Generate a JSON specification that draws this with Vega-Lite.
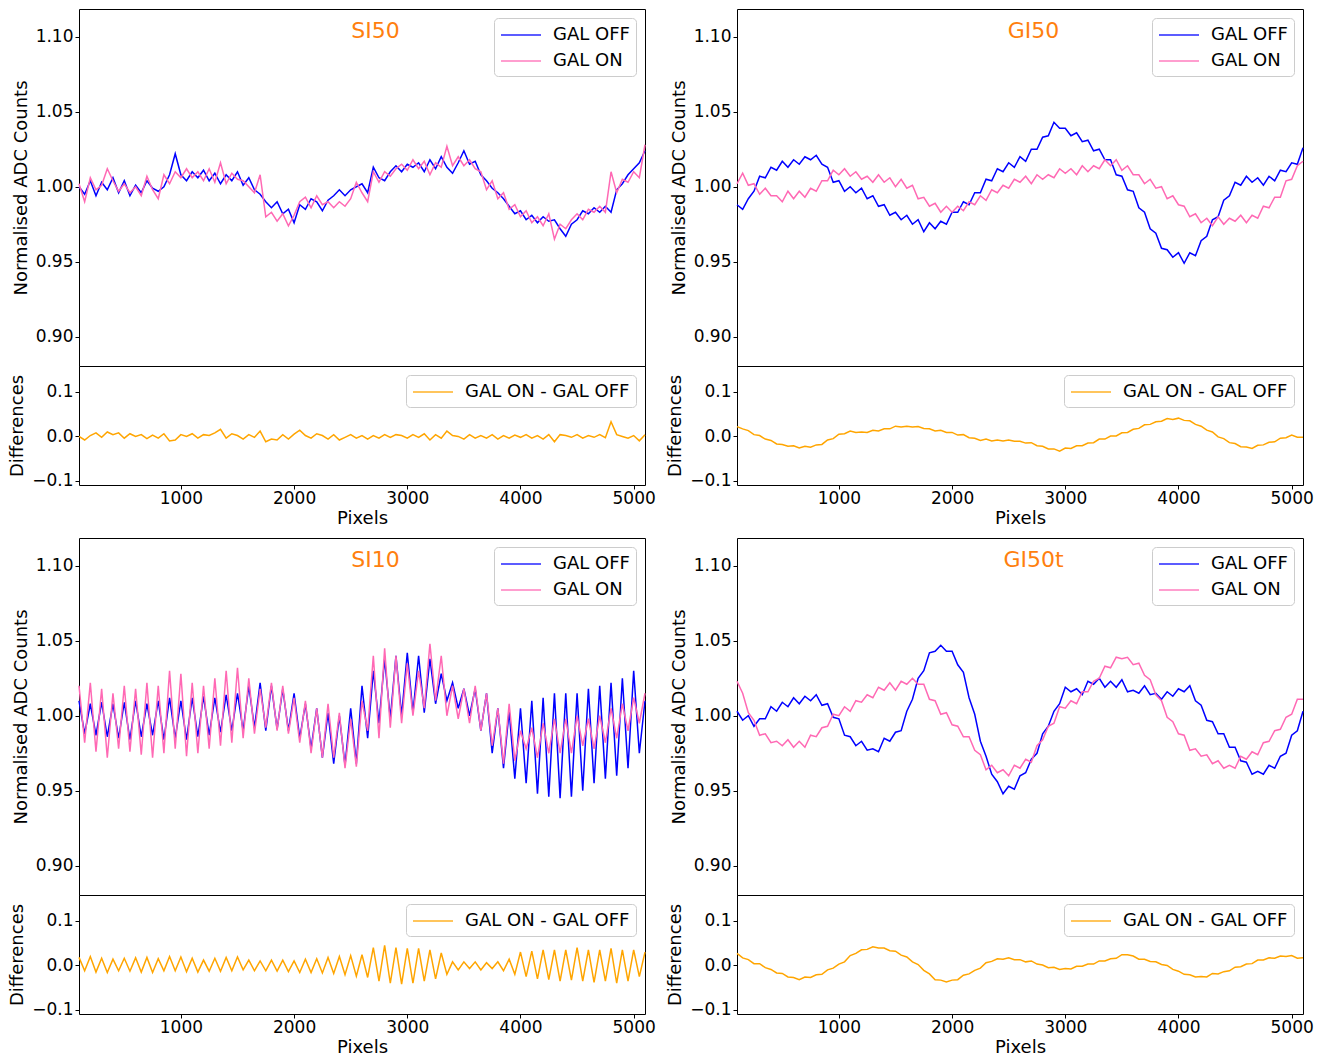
{
  "$schema": "https://vega.github.io/schema/vega-lite/v6.json",
  "background": "white",
  "padding": {"left": 8, "top": 8, "right": 5, "bottom": 5},
  "config": {
    "font": "DejaVu Sans",
    "view": {"stroke": "black", "strokeWidth": 1},
    "axis": {"labelFontSize": 17, "titleFontSize": 18, "titleFontWeight": "normal", "labelColor": "black", "titleColor": "black", "tickColor": "black", "domain": false, "grid": false, "tickSize": 4, "tickWidth": 1, "labelPadding": 2, "titlePadding": 5, "labelFont": "DejaVu Sans", "titleFont": "DejaVu Sans"},
    "axisX": {"labelPadding": 1, "titlePadding": 3},
    "legend": {"orient": "top-right", "offset": 9, "symbolType": "M-1,0H3", "symbolSize": 400, "symbolStrokeWidth": 1.5, "symbolOpacity": 0.85, "labelFontSize": 18, "labelOffset": 31, "labelLimit": 300, "padding": 6, "rowPadding": 6, "strokeColor": "#cccccc", "fillColor": "rgba(255,255,255,0.85)", "cornerRadius": 4, "labelColor": "black", "labelFont": "DejaVu Sans"}
  },
  "datasets": {
    "si50": [
      {"x":100,"off":1.000,"on":1.002,"d":0.000},{"x":150,"off":0.995,"on":0.990,"d":-0.008},{"x":200,"off":1.004,"on":1.006,"d":0.002},{"x":250,"off":0.994,"on":0.998,"d":0.008},{"x":300,"off":1.003,"on":1.001,"d":-0.002},{"x":350,"off":0.998,"on":1.012,"d":0.010},{"x":400,"off":1.006,"on":1.004,"d":0.004},{"x":450,"off":0.996,"on":0.997,"d":0.008},{"x":500,"off":1.004,"on":1.002,"d":-0.004},{"x":550,"off":0.994,"on":0.996,"d":0.006},
      {"x":600,"off":1.001,"on":1.000,"d":0.000},{"x":650,"off":0.996,"on":0.994,"d":0.004},{"x":700,"off":1.004,"on":1.007,"d":-0.005},{"x":750,"off":0.999,"on":0.998,"d":0.003},{"x":800,"off":0.997,"on":0.992,"d":-0.004},{"x":850,"off":1.000,"on":1.008,"d":0.006},{"x":900,"off":1.008,"on":1.002,"d":-0.010},{"x":950,"off":1.022,"on":1.010,"d":-0.008},{"x":1000,"off":1.008,"on":1.006,"d":0.004},{"x":1050,"off":1.004,"on":1.012,"d":0.000},
      {"x":1100,"off":1.010,"on":1.006,"d":0.006},{"x":1150,"off":1.006,"on":1.010,"d":-0.004},{"x":1200,"off":1.011,"on":1.004,"d":0.004},{"x":1250,"off":1.004,"on":1.012,"d":0.002},{"x":1300,"off":1.009,"on":1.003,"d":0.008},{"x":1350,"off":1.002,"on":1.016,"d":0.016},{"x":1400,"off":1.008,"on":1.002,"d":-0.004},{"x":1450,"off":1.004,"on":1.009,"d":0.006},{"x":1500,"off":1.010,"on":1.005,"d":0.002},{"x":1550,"off":1.001,"on":1.004,"d":-0.006},
      {"x":1600,"off":1.006,"on":1.000,"d":0.004},{"x":1650,"off":0.998,"on":0.996,"d":-0.002},{"x":1700,"off":0.995,"on":1.008,"d":0.012},{"x":1750,"off":0.990,"on":0.980,"d":-0.012},{"x":1800,"off":0.986,"on":0.983,"d":-0.006},{"x":1850,"off":0.990,"on":0.977,"d":-0.008},{"x":1900,"off":0.982,"on":0.982,"d":0.004},{"x":1950,"off":0.985,"on":0.974,"d":-0.006},{"x":2000,"off":0.976,"on":0.981,"d":0.005},{"x":2050,"off":0.988,"on":0.990,"d":0.014},
      {"x":2100,"off":0.985,"on":0.993,"d":0.002},{"x":2150,"off":0.992,"on":0.986,"d":-0.004},{"x":2200,"off":0.990,"on":0.994,"d":0.006},{"x":2250,"off":0.984,"on":0.988,"d":0.002},{"x":2300,"off":0.991,"on":0.990,"d":-0.006},{"x":2350,"off":0.994,"on":0.986,"d":0.004},{"x":2400,"off":0.998,"on":0.990,"d":-0.008},{"x":2450,"off":0.994,"on":0.987,"d":-0.002},{"x":2500,"off":0.998,"on":0.992,"d":0.004},{"x":2550,"off":1.000,"on":1.003,"d":-0.004},
      {"x":2600,"off":1.002,"on":0.996,"d":0.002},{"x":2650,"off":0.996,"on":0.990,"d":-0.006},{"x":2700,"off":1.013,"on":1.010,"d":0.002},{"x":2750,"off":1.006,"on":1.003,"d":-0.004},{"x":2800,"off":1.004,"on":1.010,"d":0.004},{"x":2850,"off":1.010,"on":1.007,"d":-0.002},{"x":2900,"off":1.014,"on":1.012,"d":0.004},{"x":2950,"off":1.010,"on":1.015,"d":0.002},{"x":3000,"off":1.015,"on":1.011,"d":-0.004},{"x":3050,"off":1.013,"on":1.018,"d":0.004},
      {"x":3100,"off":1.016,"on":1.012,"d":-0.002},{"x":3150,"off":1.010,"on":1.017,"d":0.006},{"x":3200,"off":1.018,"on":1.008,"d":-0.008},{"x":3250,"off":1.012,"on":1.016,"d":0.004},{"x":3300,"off":1.020,"on":1.013,"d":-0.004},{"x":3350,"off":1.013,"on":1.027,"d":0.012},{"x":3400,"off":1.009,"on":1.014,"d":0.002},{"x":3450,"off":1.016,"on":1.020,"d":0.000},{"x":3500,"off":1.024,"on":1.014,"d":-0.006},{"x":3550,"off":1.015,"on":1.018,"d":0.004},
      {"x":3600,"off":1.017,"on":1.012,"d":-0.004},{"x":3650,"off":1.008,"on":1.010,"d":0.002},{"x":3700,"off":1.004,"on":0.998,"d":-0.004},{"x":3750,"off":0.999,"on":1.004,"d":0.004},{"x":3800,"off":0.996,"on":0.992,"d":-0.006},{"x":3850,"off":0.992,"on":0.996,"d":0.002},{"x":3900,"off":0.987,"on":0.985,"d":-0.004},{"x":3950,"off":0.982,"on":0.988,"d":0.003},{"x":4000,"off":0.984,"on":0.980,"d":-0.002},{"x":4050,"off":0.978,"on":0.984,"d":0.004},
      {"x":4100,"off":0.981,"on":0.976,"d":-0.004},{"x":4150,"off":0.976,"on":0.980,"d":0.002},{"x":4200,"off":0.980,"on":0.974,"d":-0.006},{"x":4250,"off":0.977,"on":0.982,"d":0.004},{"x":4300,"off":0.978,"on":0.965,"d":-0.012},{"x":4350,"off":0.972,"on":0.975,"d":0.004},{"x":4400,"off":0.967,"on":0.972,"d":0.002},{"x":4450,"off":0.975,"on":0.978,"d":-0.002},{"x":4500,"off":0.978,"on":0.982,"d":0.004},{"x":4550,"off":0.984,"on":0.978,"d":-0.004},
      {"x":4600,"off":0.982,"on":0.985,"d":0.002},{"x":4650,"off":0.986,"on":0.983,"d":-0.002},{"x":4700,"off":0.983,"on":0.987,"d":0.004},{"x":4750,"off":0.987,"on":0.983,"d":-0.003},{"x":4800,"off":0.983,"on":1.010,"d":0.033},{"x":4850,"off":0.998,"on":0.996,"d":0.004},{"x":4900,"off":1.002,"on":1.005,"d":0.000},{"x":4950,"off":1.008,"on":1.003,"d":-0.004},{"x":5000,"off":1.012,"on":1.010,"d":0.002},{"x":5050,"off":1.016,"on":1.006,"d":-0.010},
      {"x":5100,"off":1.024,"on":1.028,"d":0.004}
    ],
    "gi50": [
      {"x":100,"off":0.988,"on":1.002,"d":0.022},{"x":150,"off":0.985,"on":1.009,"d":0.017},{"x":200,"off":0.992,"on":1.001,"d":0.013},{"x":250,"off":0.997,"on":1.002,"d":0.004},{"x":300,"off":1.007,"on":0.995,"d":0.002},{"x":350,"off":1.006,"on":0.999,"d":-0.006},{"x":400,"off":1.013,"on":0.994,"d":-0.009},{"x":450,"off":1.011,"on":0.994,"d":-0.017},{"x":500,"off":1.017,"on":0.990,"d":-0.018},{"x":550,"off":1.013,"on":0.997,"d":-0.022},
      {"x":600,"off":1.018,"on":0.992,"d":-0.021},{"x":650,"off":1.015,"on":0.997,"d":-0.026},{"x":700,"off":1.020,"on":0.993,"d":-0.022},{"x":750,"off":1.018,"on":0.999,"d":-0.024},{"x":800,"off":1.021,"on":0.997,"d":-0.019},{"x":850,"off":1.015,"on":1.004,"d":-0.018},{"x":900,"off":1.013,"on":1.004,"d":-0.008},{"x":950,"off":1.003,"on":1.011,"d":-0.005},{"x":1000,"off":1.004,"on":1.008,"d":0.005},{"x":1050,"off":0.997,"on":1.012,"d":0.006},
      {"x":1100,"off":1.000,"on":1.007,"d":0.012},{"x":1150,"off":0.996,"on":1.010,"d":0.009},{"x":1200,"off":0.999,"on":1.005,"d":0.010},{"x":1250,"off":0.992,"on":1.007,"d":0.009},{"x":1300,"off":0.994,"on":1.003,"d":0.014},{"x":1350,"off":0.987,"on":1.008,"d":0.012},{"x":1400,"off":0.988,"on":1.003,"d":0.017},{"x":1450,"off":0.981,"on":1.006,"d":0.017},{"x":1500,"off":0.983,"on":1.000,"d":0.023},{"x":1550,"off":0.978,"on":1.005,"d":0.021},
      {"x":1600,"off":0.981,"on":0.999,"d":0.023},{"x":1650,"off":0.975,"on":1.001,"d":0.021},{"x":1700,"off":0.978,"on":0.992,"d":0.022},{"x":1750,"off":0.970,"on":0.993,"d":0.018},{"x":1800,"off":0.976,"on":0.987,"d":0.017},{"x":1850,"off":0.972,"on":0.989,"d":0.012},{"x":1900,"off":0.977,"on":0.983,"d":0.014},{"x":1950,"off":0.975,"on":0.987,"d":0.009},{"x":2000,"off":0.983,"on":0.983,"d":0.009},{"x":2050,"off":0.983,"on":0.987,"d":0.003},
      {"x":2100,"off":0.990,"on":0.984,"d":0.004},{"x":2150,"off":0.988,"on":0.990,"d":-0.003},{"x":2200,"off":0.996,"on":0.988,"d":-0.004},{"x":2250,"off":0.996,"on":0.994,"d":-0.009},{"x":2300,"off":1.005,"on":0.991,"d":-0.006},{"x":2350,"off":1.004,"on":0.998,"d":-0.010},{"x":2400,"off":1.012,"on":0.996,"d":-0.008},{"x":2450,"off":1.010,"on":1.001,"d":-0.010},{"x":2500,"off":1.016,"on":0.999,"d":-0.008},{"x":2550,"off":1.013,"on":1.005,"d":-0.011},
      {"x":2600,"off":1.020,"on":1.003,"d":-0.011},{"x":2650,"off":1.017,"on":1.007,"d":-0.015},{"x":2700,"off":1.025,"on":1.002,"d":-0.014},{"x":2750,"off":1.025,"on":1.008,"d":-0.021},{"x":2800,"off":1.033,"on":1.005,"d":-0.022},{"x":2850,"off":1.034,"on":1.008,"d":-0.028},{"x":2900,"off":1.043,"on":1.006,"d":-0.028},{"x":2950,"off":1.039,"on":1.012,"d":-0.033},{"x":3000,"off":1.039,"on":1.009,"d":-0.026},{"x":3050,"off":1.034,"on":1.012,"d":-0.027},
      {"x":3100,"off":1.036,"on":1.008,"d":-0.021},{"x":3150,"off":1.030,"on":1.014,"d":-0.021},{"x":3200,"off":1.031,"on":1.010,"d":-0.015},{"x":3250,"off":1.024,"on":1.014,"d":-0.014},{"x":3300,"off":1.025,"on":1.012,"d":-0.006},{"x":3350,"off":1.018,"on":1.018,"d":-0.006},{"x":3400,"off":1.018,"on":1.014,"d":0.001},{"x":3450,"off":1.008,"on":1.018,"d":0.001},{"x":3500,"off":1.007,"on":1.011,"d":0.008},{"x":3550,"off":0.998,"on":1.014,"d":0.009},
      {"x":3600,"off":0.997,"on":1.008,"d":0.016},{"x":3650,"off":0.986,"on":1.008,"d":0.018},{"x":3700,"off":0.983,"on":1.002,"d":0.026},{"x":3750,"off":0.972,"on":1.005,"d":0.027},{"x":3800,"off":0.969,"on":0.999,"d":0.033},{"x":3850,"off":0.959,"on":1.000,"d":0.034},{"x":3900,"off":0.958,"on":0.992,"d":0.040},{"x":3950,"off":0.953,"on":0.994,"d":0.038},{"x":4000,"off":0.956,"on":0.988,"d":0.041},{"x":4050,"off":0.949,"on":0.987,"d":0.036},
      {"x":4100,"off":0.956,"on":0.980,"d":0.035},{"x":4150,"off":0.954,"on":0.982,"d":0.027},{"x":4200,"off":0.964,"on":0.976,"d":0.023},{"x":4250,"off":0.967,"on":0.979,"d":0.014},{"x":4300,"off":0.978,"on":0.974,"d":0.010},{"x":4350,"off":0.980,"on":0.980,"d":-0.001},{"x":4400,"off":0.991,"on":0.975,"d":-0.005},{"x":4450,"off":0.994,"on":0.979,"d":-0.014},{"x":4500,"off":1.003,"on":0.977,"d":-0.016},{"x":4550,"off":1.001,"on":0.981,"d":-0.023},
      {"x":4600,"off":1.007,"on":0.976,"d":-0.024},{"x":4650,"off":1.003,"on":0.981,"d":-0.027},{"x":4700,"off":1.006,"on":0.979,"d":-0.020},{"x":4750,"off":1.001,"on":0.987,"d":-0.019},{"x":4800,"off":1.007,"on":0.986,"d":-0.013},{"x":4850,"off":1.004,"on":0.993,"d":-0.012},{"x":4900,"off":1.011,"on":0.993,"d":-0.004},{"x":4950,"off":1.010,"on":1.004,"d":-0.003},{"x":5000,"off":1.016,"on":1.005,"d":0.003},{"x":5050,"off":1.015,"on":1.014,"d":-0.002},
      {"x":5100,"off":1.026,"on":1.017,"d":-0.002}
    ],
    "si10": [
      {"x":100,"off":1.010,"on":1.020,"d":0.018},{"x":150,"off":0.988,"on":0.982,"d":-0.012},{"x":200,"off":1.008,"on":1.022,"d":0.020},{"x":250,"off":0.987,"on":0.976,"d":-0.015},{"x":300,"off":1.009,"on":1.018,"d":0.016},{"x":350,"off":0.986,"on":0.972,"d":-0.016},{"x":400,"off":1.008,"on":1.015,"d":0.014},{"x":450,"off":0.985,"on":0.978,"d":-0.012},{"x":500,"off":1.009,"on":1.020,"d":0.016},{"x":550,"off":0.984,"on":0.976,"d":-0.013},
      {"x":600,"off":1.010,"on":1.018,"d":0.017},{"x":650,"off":0.986,"on":0.974,"d":-0.015},{"x":700,"off":1.008,"on":1.022,"d":0.018},{"x":750,"off":0.987,"on":0.972,"d":-0.016},{"x":800,"off":1.010,"on":1.020,"d":0.015},{"x":850,"off":0.984,"on":0.975,"d":-0.012},{"x":900,"off":1.012,"on":1.030,"d":0.020},{"x":950,"off":0.985,"on":0.978,"d":-0.012},{"x":1000,"off":1.010,"on":1.028,"d":0.019},{"x":1050,"off":0.984,"on":0.973,"d":-0.014},
      {"x":1100,"off":1.012,"on":1.022,"d":0.016},{"x":1150,"off":0.986,"on":0.975,"d":-0.015},{"x":1200,"off":1.013,"on":1.020,"d":0.012},{"x":1250,"off":0.987,"on":0.978,"d":-0.013},{"x":1300,"off":1.012,"on":1.025,"d":0.016},{"x":1350,"off":0.989,"on":0.980,"d":-0.013},{"x":1400,"off":1.014,"on":1.030,"d":0.018},{"x":1450,"off":0.990,"on":0.982,"d":-0.012},{"x":1500,"off":1.015,"on":1.032,"d":0.019},{"x":1550,"off":0.990,"on":0.985,"d":-0.010},
      {"x":1600,"off":1.020,"on":1.025,"d":0.012},{"x":1650,"off":0.992,"on":0.988,"d":-0.012},{"x":1700,"off":1.022,"on":1.018,"d":0.010},{"x":1750,"off":0.990,"on":0.992,"d":-0.012},{"x":1800,"off":1.020,"on":1.022,"d":0.012},{"x":1850,"off":0.991,"on":0.990,"d":-0.013},{"x":1900,"off":1.018,"on":1.020,"d":0.012},{"x":1950,"off":0.990,"on":0.988,"d":-0.014},{"x":2000,"off":1.015,"on":1.012,"d":0.010},{"x":2050,"off":0.985,"on":0.982,"d":-0.016},
      {"x":2100,"off":1.008,"on":1.010,"d":0.014},{"x":2150,"off":0.978,"on":0.975,"d":-0.016},{"x":2200,"off":1.005,"on":1.005,"d":0.015},{"x":2250,"off":0.972,"on":0.972,"d":-0.017},{"x":2300,"off":1.002,"on":1.008,"d":0.018},{"x":2350,"off":0.968,"on":0.972,"d":-0.018},{"x":2400,"off":1.000,"on":1.002,"d":0.020},{"x":2450,"off":0.967,"on":0.965,"d":-0.021},{"x":2500,"off":1.005,"on":0.998,"d":0.022},{"x":2550,"off":0.968,"on":0.966,"d":-0.024},
      {"x":2600,"off":1.020,"on":1.010,"d":0.024},{"x":2650,"off":0.985,"on":0.990,"d":-0.027},{"x":2700,"off":1.030,"on":1.040,"d":0.040},{"x":2750,"off":0.995,"on":0.985,"d":-0.035},{"x":2800,"off":1.038,"on":1.045,"d":0.045},{"x":2850,"off":0.998,"on":0.992,"d":-0.040},{"x":2900,"off":1.040,"on":1.040,"d":0.040},{"x":2950,"off":1.000,"on":0.995,"d":-0.042},{"x":3000,"off":1.042,"on":1.035,"d":0.038},{"x":3050,"off":1.002,"on":1.000,"d":-0.040},
      {"x":3100,"off":1.040,"on":1.030,"d":0.038},{"x":3150,"off":1.002,"on":1.005,"d":-0.035},{"x":3200,"off":1.038,"on":1.048,"d":0.035},{"x":3250,"off":1.008,"on":1.010,"d":-0.030},{"x":3300,"off":1.028,"on":1.040,"d":0.028},{"x":3350,"off":1.010,"on":1.000,"d":-0.020},{"x":3400,"off":1.022,"on":1.020,"d":0.008},{"x":3450,"off":1.005,"on":0.998,"d":-0.010},{"x":3500,"off":1.018,"on":1.018,"d":0.008},{"x":3550,"off":1.000,"on":0.995,"d":-0.007},
      {"x":3600,"off":1.018,"on":1.020,"d":0.008},{"x":3650,"off":0.990,"on":0.990,"d":-0.010},{"x":3700,"off":1.015,"on":1.015,"d":0.006},{"x":3750,"off":0.975,"on":0.980,"d":-0.007},{"x":3800,"off":1.005,"on":1.005,"d":0.008},{"x":3850,"off":0.965,"on":0.968,"d":-0.012},{"x":3900,"off":1.003,"on":1.008,"d":0.014},{"x":3950,"off":0.958,"on":0.970,"d":-0.020},{"x":4000,"off":1.005,"on":0.990,"d":0.030},{"x":4050,"off":0.955,"on":0.978,"d":-0.025},
      {"x":4100,"off":1.010,"on":0.992,"d":0.032},{"x":4150,"off":0.948,"on":0.972,"d":-0.030},{"x":4200,"off":1.012,"on":0.995,"d":0.035},{"x":4250,"off":0.946,"on":0.975,"d":-0.032},{"x":4300,"off":1.015,"on":0.998,"d":0.035},{"x":4350,"off":0.945,"on":0.975,"d":-0.035},{"x":4400,"off":1.015,"on":0.998,"d":0.035},{"x":4450,"off":0.946,"on":0.975,"d":-0.033},{"x":4500,"off":1.015,"on":1.000,"d":0.040},{"x":4550,"off":0.950,"on":0.980,"d":-0.035},
      {"x":4600,"off":1.018,"on":0.998,"d":0.035},{"x":4650,"off":0.955,"on":0.978,"d":-0.038},{"x":4700,"off":1.020,"on":1.000,"d":0.035},{"x":4750,"off":0.958,"on":0.982,"d":-0.035},{"x":4800,"off":1.022,"on":1.005,"d":0.038},{"x":4850,"off":0.960,"on":0.985,"d":-0.040},{"x":4900,"off":1.025,"on":1.008,"d":0.035},{"x":4950,"off":0.965,"on":0.990,"d":-0.035},{"x":5000,"off":1.030,"on":1.012,"d":0.035},{"x":5050,"off":0.975,"on":0.995,"d":-0.025},
      {"x":5100,"off":1.010,"on":1.015,"d":0.030}
    ],
    "gi50t": [
      {"x":100,"off":1.003,"on":1.023,"d":0.027},{"x":150,"off":0.997,"on":1.015,"d":0.017},{"x":200,"off":1.000,"on":1.002,"d":0.013},{"x":250,"off":0.993,"on":0.997,"d":0.004},{"x":300,"off":0.998,"on":0.987,"d":0.004},{"x":350,"off":0.998,"on":0.988,"d":-0.005},{"x":400,"off":1.006,"on":0.982,"d":-0.009},{"x":450,"off":1.003,"on":0.983,"d":-0.017},{"x":500,"off":1.009,"on":0.980,"d":-0.018},{"x":550,"off":1.006,"on":0.984,"d":-0.026},
      {"x":600,"off":1.012,"on":0.979,"d":-0.027},{"x":650,"off":1.008,"on":0.983,"d":-0.032},{"x":700,"off":1.013,"on":0.979,"d":-0.026},{"x":750,"off":1.010,"on":0.987,"d":-0.027},{"x":800,"off":1.014,"on":0.986,"d":-0.021},{"x":850,"off":1.007,"on":0.992,"d":-0.020},{"x":900,"off":1.008,"on":0.993,"d":-0.010},{"x":950,"off":0.999,"on":1.001,"d":-0.006},{"x":1000,"off":0.998,"on":1.000,"d":0.003},{"x":1050,"off":0.987,"on":1.006,"d":0.008},
      {"x":1100,"off":0.986,"on":1.003,"d":0.022},{"x":1150,"off":0.980,"on":1.010,"d":0.027},{"x":1200,"off":0.983,"on":1.009,"d":0.035},{"x":1250,"off":0.977,"on":1.014,"d":0.036},{"x":1300,"off":0.978,"on":1.012,"d":0.042},{"x":1350,"off":0.976,"on":1.019,"d":0.039},{"x":1400,"off":0.985,"on":1.017,"d":0.039},{"x":1450,"off":0.983,"on":1.022,"d":0.033},{"x":1500,"off":0.989,"on":1.017,"d":0.032},{"x":1550,"off":0.990,"on":1.023,"d":0.023},
      {"x":1600,"off":1.003,"on":1.021,"d":0.019},{"x":1650,"off":1.011,"on":1.025,"d":0.008},{"x":1700,"off":1.025,"on":1.021,"d":0.002},{"x":1750,"off":1.030,"on":1.021,"d":-0.011},{"x":1800,"off":1.042,"on":1.011,"d":-0.019},{"x":1850,"off":1.043,"on":1.010,"d":-0.032},{"x":1900,"off":1.047,"on":1.001,"d":-0.033},{"x":1950,"off":1.043,"on":1.002,"d":-0.037},{"x":2000,"off":1.043,"on":0.994,"d":-0.033},{"x":2050,"off":1.034,"on":0.993,"d":-0.032},
      {"x":2100,"off":1.029,"on":0.986,"d":-0.022},{"x":2150,"off":1.012,"on":0.986,"d":-0.019},{"x":2200,"off":1.001,"on":0.977,"d":-0.011},{"x":2250,"off":0.983,"on":0.974,"d":-0.006},{"x":2300,"off":0.973,"on":0.964,"d":0.006},{"x":2350,"off":0.961,"on":0.967,"d":0.009},{"x":2400,"off":0.956,"on":0.962,"d":0.015},{"x":2450,"off":0.948,"on":0.964,"d":0.014},{"x":2500,"off":0.953,"on":0.960,"d":0.017},{"x":2550,"off":0.951,"on":0.967,"d":0.013},
      {"x":2600,"off":0.960,"on":0.965,"d":0.013},{"x":2650,"off":0.962,"on":0.971,"d":0.008},{"x":2700,"off":0.971,"on":0.969,"d":0.010},{"x":2750,"off":0.975,"on":0.980,"d":0.003},{"x":2800,"off":0.988,"on":0.984,"d":0.001},{"x":2850,"off":0.993,"on":0.993,"d":-0.005},{"x":2900,"off":1.003,"on":0.995,"d":-0.004},{"x":2950,"off":1.008,"on":1.006,"d":-0.009},{"x":3000,"off":1.019,"on":1.005,"d":-0.007},{"x":3050,"off":1.016,"on":1.010,"d":-0.008},
      {"x":3100,"off":1.018,"on":1.008,"d":-0.002},{"x":3150,"off":1.014,"on":1.016,"d":-0.002},{"x":3200,"off":1.023,"on":1.016,"d":0.003},{"x":3250,"off":1.021,"on":1.023,"d":0.003},{"x":3300,"off":1.025,"on":1.025,"d":0.010},{"x":3350,"off":1.019,"on":1.033,"d":0.010},{"x":3400,"off":1.023,"on":1.032,"d":0.015},{"x":3450,"off":1.019,"on":1.039,"d":0.016},{"x":3500,"off":1.024,"on":1.038,"d":0.024},{"x":3550,"off":1.016,"on":1.039,"d":0.024},
      {"x":3600,"off":1.017,"on":1.034,"d":0.021},{"x":3650,"off":1.015,"on":1.035,"d":0.014},{"x":3700,"off":1.020,"on":1.027,"d":0.014},{"x":3750,"off":1.014,"on":1.024,"d":0.009},{"x":3800,"off":1.015,"on":1.014,"d":0.008},{"x":3850,"off":1.011,"on":1.010,"d":0.002},{"x":3900,"off":1.016,"on":0.999,"d":0.000},{"x":3950,"off":1.013,"on":0.996,"d":-0.009},{"x":4000,"off":1.018,"on":0.988,"d":-0.013},{"x":4050,"off":1.016,"on":0.987,"d":-0.020},
      {"x":4100,"off":1.020,"on":0.977,"d":-0.021},{"x":4150,"off":1.010,"on":0.978,"d":-0.026},{"x":4200,"off":1.007,"on":0.973,"d":-0.025},{"x":4250,"off":0.997,"on":0.974,"d":-0.026},{"x":4300,"off":0.996,"on":0.968,"d":-0.018},{"x":4350,"off":0.988,"on":0.970,"d":-0.019},{"x":4400,"off":0.988,"on":0.965,"d":-0.014},{"x":4450,"off":0.979,"on":0.967,"d":-0.012},{"x":4500,"off":0.979,"on":0.965,"d":-0.004},{"x":4550,"off":0.970,"on":0.973,"d":-0.003},
      {"x":4600,"off":0.969,"on":0.971,"d":0.003},{"x":4650,"off":0.961,"on":0.976,"d":0.004},{"x":4700,"off":0.963,"on":0.974,"d":0.012},{"x":4750,"off":0.961,"on":0.982,"d":0.012},{"x":4800,"off":0.967,"on":0.983,"d":0.017},{"x":4850,"off":0.965,"on":0.990,"d":0.016},{"x":4900,"off":0.973,"on":0.991,"d":0.021},{"x":4950,"off":0.975,"on":0.999,"d":0.020},{"x":5000,"off":0.987,"on":1.001,"d":0.022},{"x":5050,"off":0.990,"on":1.011,"d":0.016},
      {"x":5100,"off":1.003,"on":1.011,"d":0.017}
    ]
  },
  "spacing": 9,
  "resolve": {"scale": {"color": "independent", "x": "independent", "y": "independent"}, "legend": {"color": "independent"}},
  "vconcat": [
    {
      "spacing": 10,
      "resolve": {"scale": {"color": "independent", "x": "independent", "y": "independent"}, "legend": {"color": "independent"}},
      "hconcat": [
        {
          "spacing": 0, "bounds": "flush",
          "resolve": {"scale": {"color": "independent", "x": "independent", "y": "independent"}, "legend": {"color": "independent"}},
          "vconcat": [
            {
              "width": 566, "height": 357,
              "layer": [
                {
                  "data": {"name": "si50"},
                  "transform": [{"fold": ["off", "on"], "as": ["series", "value"]}],
                  "mark": {"type": "line", "strokeWidth": 1.5},
                  "encoding": {
                    "x": {"field": "x", "type": "quantitative", "scale": {"domain": [100, 5100], "nice": false, "zero": false}, "axis": null},
                    "y": {"field": "value", "type": "quantitative", "scale": {"domain": [0.8805, 1.1185], "nice": false, "zero": false}, "axis": {"values": [0.9, 0.95, 1.0, 1.05, 1.1], "format": ".2f", "title": "Normalised ADC Counts"}},
                    "color": {"field": "series", "type": "nominal", "scale": {"domain": ["off", "on"], "range": ["#0000ff", "#ff69b4"]}, "legend": {"title": null, "labelExpr": "datum.label == 'off' ? 'GAL OFF' : 'GAL ON'"}}
                  }
                },
                {
                  "data": {"values": [{}]},
                  "mark": {"type": "text", "text": "SI50", "color": "#ff7f0e", "fontSize": 22, "align": "center", "baseline": "middle"},
                  "encoding": {"x": {"datum": 2720, "type": "quantitative"}, "y": {"datum": 1.104, "type": "quantitative"}}
                }
              ]
            },
            {
              "width": 566, "height": 119,
              "data": {"name": "si50"},
              "transform": [{"fold": ["d"], "as": ["series", "value"]}],
              "mark": {"type": "line", "strokeWidth": 1.5},
              "encoding": {
                "x": {"field": "x", "type": "quantitative", "scale": {"domain": [100, 5100], "nice": false, "zero": false}, "axis": {"values": [1000, 2000, 3000, 4000, 5000], "format": "d", "title": "Pixels"}},
                "y": {"field": "value", "type": "quantitative", "scale": {"domain": [-0.109, 0.158], "nice": false, "zero": false}, "axis": {"values": [-0.1, 0, 0.1], "format": ".1f", "title": "Differences"}},
                "color": {"field": "series", "type": "nominal", "scale": {"domain": ["d"], "range": ["#ffa500"]}, "legend": {"title": null, "labelExpr": "'GAL ON - GAL OFF'"}}
              }
            }
          ]
        },
        {
          "spacing": 0, "bounds": "flush",
          "resolve": {"scale": {"color": "independent", "x": "independent", "y": "independent"}, "legend": {"color": "independent"}},
          "vconcat": [
            {
              "width": 566, "height": 357,
              "layer": [
                {
                  "data": {"name": "gi50"},
                  "transform": [{"fold": ["off", "on"], "as": ["series", "value"]}],
                  "mark": {"type": "line", "strokeWidth": 1.5},
                  "encoding": {
                    "x": {"field": "x", "type": "quantitative", "scale": {"domain": [100, 5100], "nice": false, "zero": false}, "axis": null},
                    "y": {"field": "value", "type": "quantitative", "scale": {"domain": [0.8805, 1.1185], "nice": false, "zero": false}, "axis": {"values": [0.9, 0.95, 1.0, 1.05, 1.1], "format": ".2f", "title": "Normalised ADC Counts"}},
                    "color": {"field": "series", "type": "nominal", "scale": {"domain": ["off", "on"], "range": ["#0000ff", "#ff69b4"]}, "legend": {"title": null, "labelExpr": "datum.label == 'off' ? 'GAL OFF' : 'GAL ON'"}}
                  }
                },
                {
                  "data": {"values": [{}]},
                  "mark": {"type": "text", "text": "GI50", "color": "#ff7f0e", "fontSize": 22, "align": "center", "baseline": "middle"},
                  "encoding": {"x": {"datum": 2720, "type": "quantitative"}, "y": {"datum": 1.104, "type": "quantitative"}}
                }
              ]
            },
            {
              "width": 566, "height": 119,
              "data": {"name": "gi50"},
              "transform": [{"fold": ["d"], "as": ["series", "value"]}],
              "mark": {"type": "line", "strokeWidth": 1.5},
              "encoding": {
                "x": {"field": "x", "type": "quantitative", "scale": {"domain": [100, 5100], "nice": false, "zero": false}, "axis": {"values": [1000, 2000, 3000, 4000, 5000], "format": "d", "title": "Pixels"}},
                "y": {"field": "value", "type": "quantitative", "scale": {"domain": [-0.109, 0.158], "nice": false, "zero": false}, "axis": {"values": [-0.1, 0, 0.1], "format": ".1f", "title": "Differences"}},
                "color": {"field": "series", "type": "nominal", "scale": {"domain": ["d"], "range": ["#ffa500"]}, "legend": {"title": null, "labelExpr": "'GAL ON - GAL OFF'"}}
              }
            }
          ]
        }
      ]
    },
    {
      "spacing": 10,
      "resolve": {"scale": {"color": "independent", "x": "independent", "y": "independent"}, "legend": {"color": "independent"}},
      "hconcat": [
        {
          "spacing": 0, "bounds": "flush",
          "resolve": {"scale": {"color": "independent", "x": "independent", "y": "independent"}, "legend": {"color": "independent"}},
          "vconcat": [
            {
              "width": 566, "height": 357,
              "layer": [
                {
                  "data": {"name": "si10"},
                  "transform": [{"fold": ["off", "on"], "as": ["series", "value"]}],
                  "mark": {"type": "line", "strokeWidth": 1.5},
                  "encoding": {
                    "x": {"field": "x", "type": "quantitative", "scale": {"domain": [100, 5100], "nice": false, "zero": false}, "axis": null},
                    "y": {"field": "value", "type": "quantitative", "scale": {"domain": [0.8805, 1.1185], "nice": false, "zero": false}, "axis": {"values": [0.9, 0.95, 1.0, 1.05, 1.1], "format": ".2f", "title": "Normalised ADC Counts"}},
                    "color": {"field": "series", "type": "nominal", "scale": {"domain": ["off", "on"], "range": ["#0000ff", "#ff69b4"]}, "legend": {"title": null, "labelExpr": "datum.label == 'off' ? 'GAL OFF' : 'GAL ON'"}}
                  }
                },
                {
                  "data": {"values": [{}]},
                  "mark": {"type": "text", "text": "SI10", "color": "#ff7f0e", "fontSize": 22, "align": "center", "baseline": "middle"},
                  "encoding": {"x": {"datum": 2720, "type": "quantitative"}, "y": {"datum": 1.104, "type": "quantitative"}}
                }
              ]
            },
            {
              "width": 566, "height": 119,
              "data": {"name": "si10"},
              "transform": [{"fold": ["d"], "as": ["series", "value"]}],
              "mark": {"type": "line", "strokeWidth": 1.5},
              "encoding": {
                "x": {"field": "x", "type": "quantitative", "scale": {"domain": [100, 5100], "nice": false, "zero": false}, "axis": {"values": [1000, 2000, 3000, 4000, 5000], "format": "d", "title": "Pixels"}},
                "y": {"field": "value", "type": "quantitative", "scale": {"domain": [-0.109, 0.158], "nice": false, "zero": false}, "axis": {"values": [-0.1, 0, 0.1], "format": ".1f", "title": "Differences"}},
                "color": {"field": "series", "type": "nominal", "scale": {"domain": ["d"], "range": ["#ffa500"]}, "legend": {"title": null, "labelExpr": "'GAL ON - GAL OFF'"}}
              }
            }
          ]
        },
        {
          "spacing": 0, "bounds": "flush",
          "resolve": {"scale": {"color": "independent", "x": "independent", "y": "independent"}, "legend": {"color": "independent"}},
          "vconcat": [
            {
              "width": 566, "height": 357,
              "layer": [
                {
                  "data": {"name": "gi50t"},
                  "transform": [{"fold": ["off", "on"], "as": ["series", "value"]}],
                  "mark": {"type": "line", "strokeWidth": 1.5},
                  "encoding": {
                    "x": {"field": "x", "type": "quantitative", "scale": {"domain": [100, 5100], "nice": false, "zero": false}, "axis": null},
                    "y": {"field": "value", "type": "quantitative", "scale": {"domain": [0.8805, 1.1185], "nice": false, "zero": false}, "axis": {"values": [0.9, 0.95, 1.0, 1.05, 1.1], "format": ".2f", "title": "Normalised ADC Counts"}},
                    "color": {"field": "series", "type": "nominal", "scale": {"domain": ["off", "on"], "range": ["#0000ff", "#ff69b4"]}, "legend": {"title": null, "labelExpr": "datum.label == 'off' ? 'GAL OFF' : 'GAL ON'"}}
                  }
                },
                {
                  "data": {"values": [{}]},
                  "mark": {"type": "text", "text": "GI50t", "color": "#ff7f0e", "fontSize": 22, "align": "center", "baseline": "middle"},
                  "encoding": {"x": {"datum": 2720, "type": "quantitative"}, "y": {"datum": 1.104, "type": "quantitative"}}
                }
              ]
            },
            {
              "width": 566, "height": 119,
              "data": {"name": "gi50t"},
              "transform": [{"fold": ["d"], "as": ["series", "value"]}],
              "mark": {"type": "line", "strokeWidth": 1.5},
              "encoding": {
                "x": {"field": "x", "type": "quantitative", "scale": {"domain": [100, 5100], "nice": false, "zero": false}, "axis": {"values": [1000, 2000, 3000, 4000, 5000], "format": "d", "title": "Pixels"}},
                "y": {"field": "value", "type": "quantitative", "scale": {"domain": [-0.109, 0.158], "nice": false, "zero": false}, "axis": {"values": [-0.1, 0, 0.1], "format": ".1f", "title": "Differences"}},
                "color": {"field": "series", "type": "nominal", "scale": {"domain": ["d"], "range": ["#ffa500"]}, "legend": {"title": null, "labelExpr": "'GAL ON - GAL OFF'"}}
              }
            }
          ]
        }
      ]
    }
  ]
}
